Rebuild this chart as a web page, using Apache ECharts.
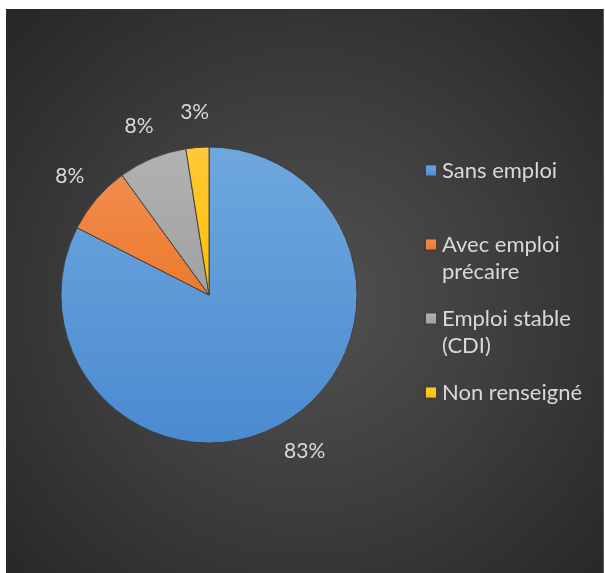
<!DOCTYPE html>
<html>
<head>
<meta charset="utf-8">
<script src="https://cdn.jsdelivr.net/npm/echarts@6/dist/echarts.min.js"></script>
<style>
  html, body { margin: 0; padding: 0; background: #ffffff; }
  #frame {
    position: absolute; left: 6px; top: 9px; width: 597px; height: 564px;
    background: radial-gradient(ellipse farthest-corner at 50% 52%, #525252 0%, #3f3f3f 45%, #262626 100%);
    border-right: 1px solid #5a5a5a;
  }
  #chart { position: absolute; left: 0; top: 0; width: 605px; height: 573px; }
</style>
</head>
<body>
<div id="frame"></div>
<div id="chart"></div>
<script>
const categories = ['Sans emploi', 'Avec emploi précaire', 'Emploi stable (CDI)', 'Non renseigné'];
const legendLines = [['Sans emploi'], ['Avec emploi', 'précaire'], ['Emploi stable', '(CDI)'], ['Non renseigné']];
const values = [82.5, 7.5, 7.5, 2.5];
const gradTop = ['#6fa8de', '#f28c4e', '#b2b2b2', '#ffc93a'];
const gradBottom = ['#4a8ad0', '#ec7a2c', '#a0a0a0', '#ffbf00'];

function grad(i) {
  return { type: 'linear', x: 0, y: 0, x2: 0, y2: 1,
    colorStops: [{ offset: 0, color: gradTop[i] }, { offset: 1, color: gradBottom[i] }] };
}

const mainData = categories.map((c, i) => ({ name: c, value: values[i], itemStyle: { color: grad(i) } }));
const labelData = categories.map((c, i) => ({ name: c, value: values[i] }));

const chart = echarts.init(document.getElementById('chart'));
chart.setOption({
  backgroundColor: 'transparent',
  animation: false,
  legend: {
    orient: 'vertical',
    left: 424,
    top: 130,
    padding: 0,
    itemGap: -7,
    itemWidth: 12,
    itemHeight: 12,
    icon: 'rect',
    data: categories,
    formatter: function (name) {
      const lines = legendLines[categories.indexOf(name)];
      return ' \n' + lines[0] + '\n' + (lines[1] || ' ');
    },
    textStyle: { color: '#d9d9d9', fontSize: 22, fontFamily: 'Lato', lineHeight: 27 }
  },
  series: [
    {
      type: 'pie',
      center: [209, 295],
      radius: 148,
      startAngle: 90,
      clockwise: true,
      data: mainData,
      label: { show: false },
      labelLine: { show: false },
      itemStyle: { borderColor: 'rgba(60,60,60,0.9)', borderWidth: 1 },
      emphasis: { disabled: true }
    },
    {
      type: 'pie',
      center: [209, 295],
      radius: [168, 192],
      startAngle: 90,
      clockwise: true,
      silent: true,
      legendHoverLink: false,
      data: labelData,
      itemStyle: { color: 'transparent', borderWidth: 0 },
      label: {
        show: true,
        position: 'inside',
        formatter: function (p) { return Math.round(p.value) + '%'; },
        color: '#d9d9d9',
        fontSize: 21,
        fontFamily: 'Lato'
      },
      labelLine: { show: false },
      emphasis: { disabled: true }
    }
  ]
});
</script>
</body>
</html>
